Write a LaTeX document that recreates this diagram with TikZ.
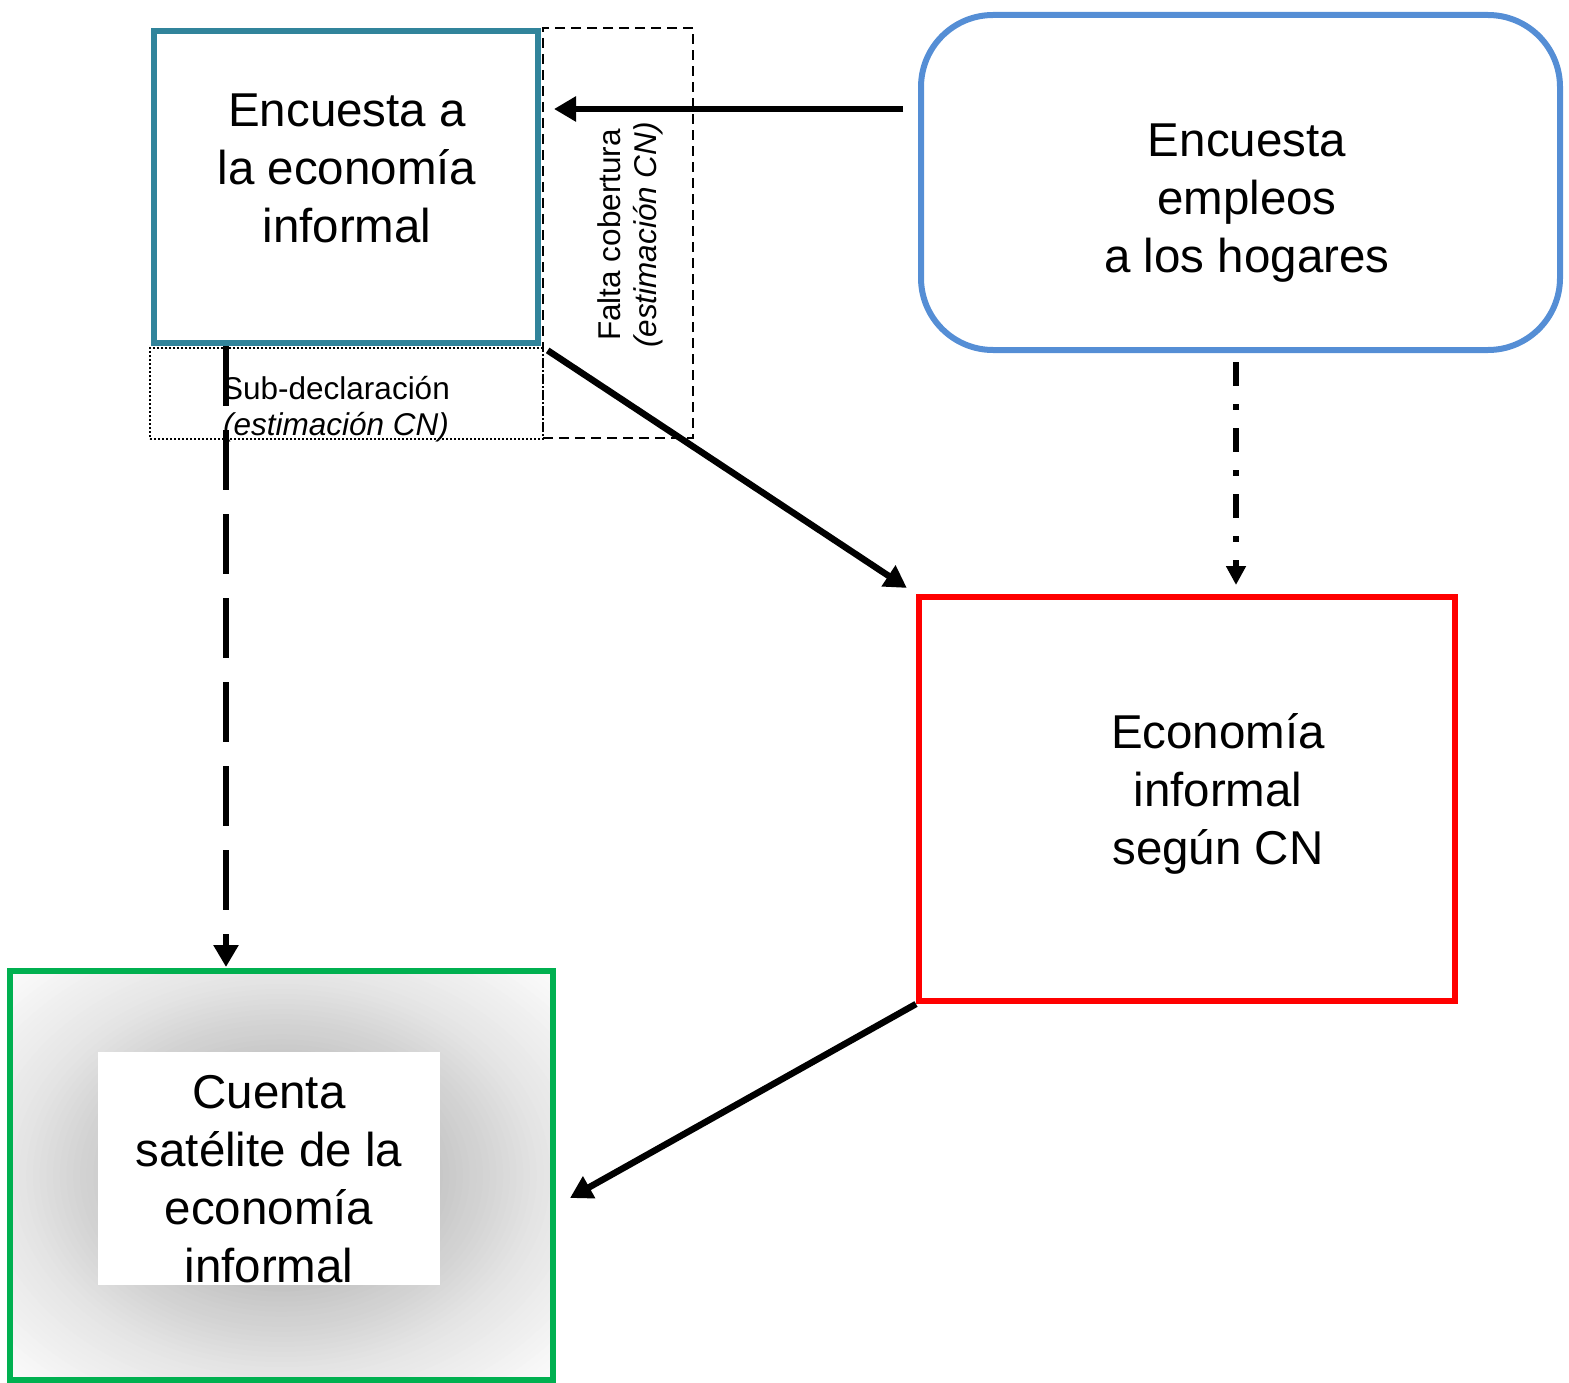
\documentclass[tikz,border=0pt]{standalone}
\usepackage{fontspec}
\setmainfont{Liberation Sans}
\usetikzlibrary{arrows.meta,calc}
\definecolor{tealc}{HTML}{31849B}
\definecolor{bluec}{HTML}{558ED5}
\definecolor{redc}{HTML}{FF0000}
\definecolor{greenc}{HTML}{00B050}
\begin{document}
\begin{tikzpicture}[x=1pt,y=-1pt,
  frame/.style={line width=6pt, inner sep=0pt},
  bigtxt/.style={align=center, inner sep=0pt, font=\fontsize{47.5}{58}\selectfont},
  smalltxt/.style={align=center, inner sep=0pt, font=\fontsize{31.5}{36}\selectfont},
  bigarrow/.style={line width=6.5pt, -{Triangle[length=22pt,width=24pt]}},
  dashdotarrow/.style={line width=6pt, dash pattern=on 24pt off 18pt on 6pt off 18pt, -{Triangle[length=19pt,width=19pt]}},
  longdasharrow/.style={line width=6.5pt, dash pattern=on 60pt off 24pt, -{Triangle[length=22pt,width=24pt]}}
]
\useasboundingbox (0,0) rectangle (1569,1383);

% boxes
\node[draw=black, line width=2pt, dash pattern=on 10pt off 6pt, minimum width=150pt, minimum height=410pt, inner sep=0pt] (fc) at (618,233) {};
\node[draw=black, line width=2pt, dash pattern=on 2pt off 2pt, minimum width=393pt, minimum height=91pt, inner sep=0pt] (sd) at (346.5,393.5) {};
\node[frame, draw=tealc, fill=white, minimum width=384pt, minimum height=312pt] (ei) at (346,187) {};
\node[frame, draw=bluec, rounded corners=72pt, minimum width=639pt, minimum height=335pt] (eh) at (1240.5,182.5) {};
\node[frame, draw=redc, minimum width=536pt, minimum height=404pt] (ef) at (1187,799) {};
\node[frame, minimum width=537pt, minimum height=403pt] (cs) at (281.5,1175.5) {};
% radial grey glow inside the green frame
\begin{scope}
  \clip (cs.south west) rectangle (cs.north east);
  \foreach \t in {1.45,1.425,...,0.02} {
    \pgfmathsetmacro\k{\t<1 ? (\t<0.6 ? 23 : 22-(\t-0.6)*30) : max(2,10-(\t-1)*19.3)}
    \fill[black!\k] (cs.center) ellipse [x radius=\t*268.5, y radius=\t*201.5];
  }
\end{scope}
\draw[greenc, line width=6pt] (cs.south west) rectangle (cs.north east);
\node[fill=white, inner sep=0pt, minimum width=342pt, minimum height=233pt] (csw) at (269,1168.5) {};

% texts
\node[bigtxt] (eit) at (347,168) {Encuesta a\\la economía\\informal};
\node[bigtxt] (eht) at (1247,203) {Encuesta\\empleos\\a los hogares};
\node[bigtxt] (eft) at (1218,794) {Economía\\informal\\según CN};
\node[bigtxt] (cst) at (269,1179.5) {Cuenta\\satélite de la\\economía\\informal};
\node[smalltxt] (sdt) at (336,409.5) {Sub-declaración\\\textit{(estimación CN)}};
\node[smalltxt, rotate=90] (fct) at (630,235) {Falta cobertura\\\textit{(estimación CN)}};

% connectors
\draw[bigarrow] ($(eh.west)+(-15,-73.5)$) -- ($(ei.east)+(13,-78)$);
\draw[bigarrow, shorten <=8pt, shorten >=11pt] (ei.south east) -- (ef.north west);
\draw[bigarrow] (ef.south west) -- ($(cs.east)+(17,22.5)$);
\draw[dashdotarrow] ($(eh.south)+(-4.5,9)$) -- ($(ef.north)+(49,-9)$);
\draw[longdasharrow] ($(ei.south)+(-120,0)$) -- ($(cs.north)+(-55.5,-4)$);
\end{tikzpicture}
\end{document}
